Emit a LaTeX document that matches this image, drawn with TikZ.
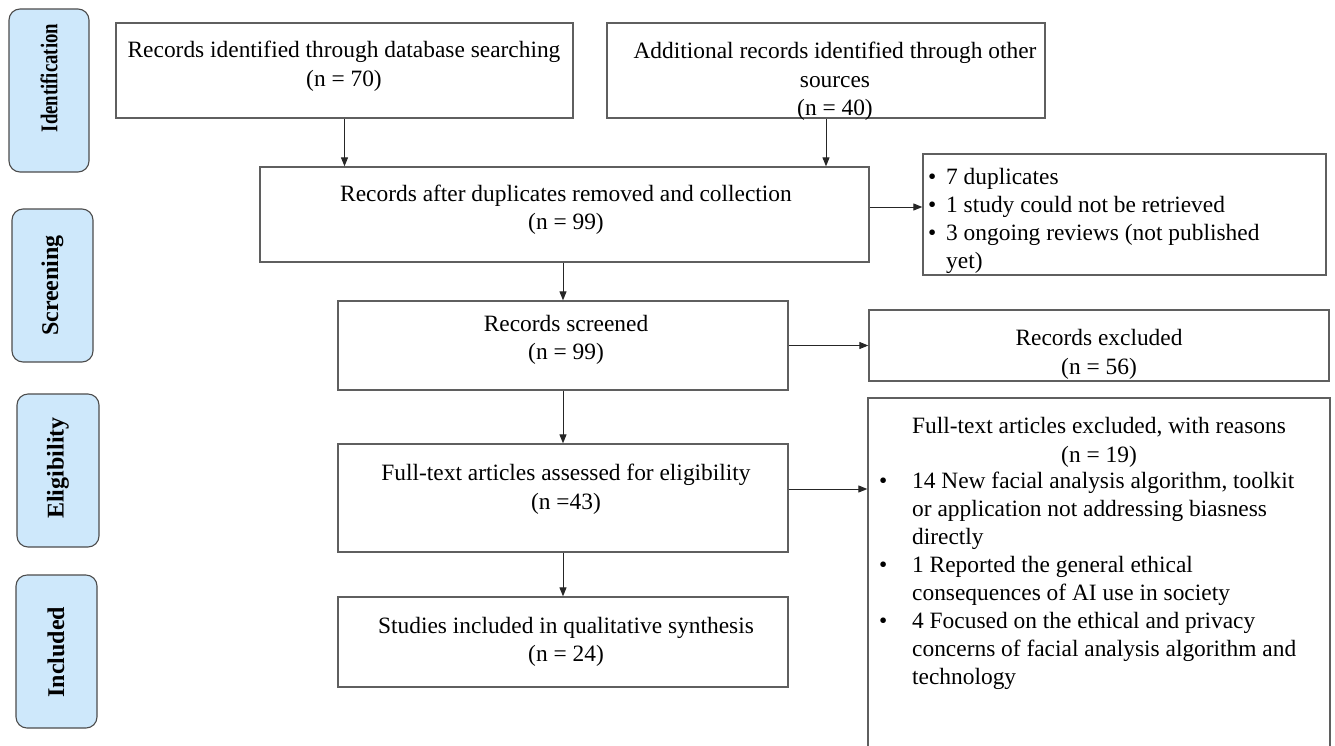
\documentclass[tikz,border=0pt]{standalone}
\usepackage{fontspec}
\setmainfont{Liberation Serif}
\usetikzlibrary{arrows.meta}
\definecolor{lblue}{RGB}{206,232,251}
\definecolor{bordergray}{RGB}{95,95,95}
\begin{document}
\begin{tikzpicture}[x=1pt,y=-1pt,
  box/.style={draw=bordergray, line width=1.3pt, rectangle, inner sep=0pt},
  lbl/.style={draw=black!70, fill=lblue, rounded corners=11pt, line width=1.1pt, inner sep=0pt},
  lbltxt/.style={rotate=90, font=\fontsize{24}{28}\selectfont\bfseries, inner sep=0pt},
  txt/.style={font=\fontsize{23.4}{28.3}\selectfont, align=center, inner sep=0pt, anchor=north},
  lst/.style={font=\fontsize{23.4}{28}\selectfont, inner sep=0pt, anchor=north west},
  arr/.style={-{Triangle[length=9pt,width=7pt]}, line width=1pt, draw=black!85}
]
\path[use as bounding box] (0,0) rectangle (1335,745);
\clip (0,0) rectangle (1335,745);

% phase labels
\node[lbl, minimum width=80pt, minimum height=163pt] (L1) at (49,90.5) {};
\node[lbltxt] (L1t) at (49,78) {\scalebox{0.78}[1]{Identification}};
\node[lbl, minimum width=81pt, minimum height=153pt] (L2) at (52.5,285.5) {};
\node[lbltxt] (L2t) at (52.5,285.5) {Screening};
\node[lbl, minimum width=82pt, minimum height=153pt] (L3) at (58,470.5) {};
\node[lbltxt] (L3t) at (58,468) {Eligibility};
\node[lbl, minimum width=81pt, minimum height=153pt] (L4) at (56.5,651.5) {};
\node[lbltxt] (L4t) at (56,652) {Included};

% boxes
\node[box, minimum width=457pt, minimum height=95pt] (A) at (344.5,70.5) {};
\node[txt] (At) at (344,37.7) {\strut Records identified through database searching\\\strut(n = 70)};

\node[box, minimum width=438pt, minimum height=95pt] (B) at (826,70.5) {};
\node[txt] (Bt) at (835,38.7) {\strut Additional records identified through other\\\strut sources\\\strut(n = 40)};

\node[box, minimum width=609pt, minimum height=95pt] (C) at (564.5,214.5) {};
\node[txt] (Ct) at (566,181.5) {\strut Records after duplicates removed and collection\\\strut(n = 99)};

\node[box, minimum width=403pt, minimum height=121pt] (D) at (1124.5,214.5) {};
\node[lst] (Dt) at (928,165) {\begin{tabular}{@{}l@{\hspace{9.8pt}}l@{}}
\textbullet & 7 duplicates\\
\textbullet & 1 study could not be retrieved\\
\textbullet & 3 ongoing reviews (not published\\
 & yet)
\end{tabular}};

\node[box, minimum width=450pt, minimum height=89pt] (E) at (563,345.5) {};
\node[txt] (Et) at (566,311.2) {\strut Records screened\\\strut(n = 99)};

\node[box, minimum width=460pt, minimum height=71pt] (F) at (1099,345.5) {};
\node[txt] (Ft) at (1099,325.7) {\strut Records excluded\\\strut(n = 56)};

\node[box, minimum width=450pt, minimum height=108pt] (G) at (563,498) {};
\node[txt] (Gt) at (566,460.7) {\strut Full-text articles assessed for eligibility\\\strut(n =43)};

\node[box, minimum width=462pt, minimum height=380pt] (H) at (1099,588) {};
\node[txt] (Ht) at (1099,413.7) {\strut Full-text articles excluded, with reasons\\\strut(n = 19)};
\node[lst] (Hl) at (879,468.7) {\begin{tabular}{@{}l@{\hspace{24.8pt}}l@{}}
\textbullet & 14 New facial analysis algorithm, toolkit\\
 & or application not addressing biasness\\
 & directly\\
\textbullet & 1 Reported the general ethical\\
 & consequences of AI use in society\\
\textbullet & 4 Focused on the ethical and privacy\\
 & concerns of facial analysis algorithm and\\
 & technology
\end{tabular}};

\node[box, minimum width=450pt, minimum height=90pt] (I) at (563,642) {};
\node[txt] (It) at (566,613.2) {\strut Studies included in qualitative synthesis\\\strut(n = 24)};

% connector anchors
\coordinate (cC) at ([yshift=7.5pt]C.east);
\coordinate (cG) at ([yshift=9pt]G.east);

% connectors
\draw[arr] (A.south) -- (A.south |- C.north);
\draw[arr] (B.south) -- (B.south |- C.north);
\draw[arr] (cC) -- (cC -| D.west);
\draw[arr] (E.north |- C.south) -- (E.north);
\draw[arr] (E.east) -- (F.west |- E.east);
\draw[arr] (E.south) -- (G.north);
\draw[arr] (cG) -- (cG -| H.west);
\draw[arr] (G.south) -- (I.north);
\end{tikzpicture}
\end{document}
